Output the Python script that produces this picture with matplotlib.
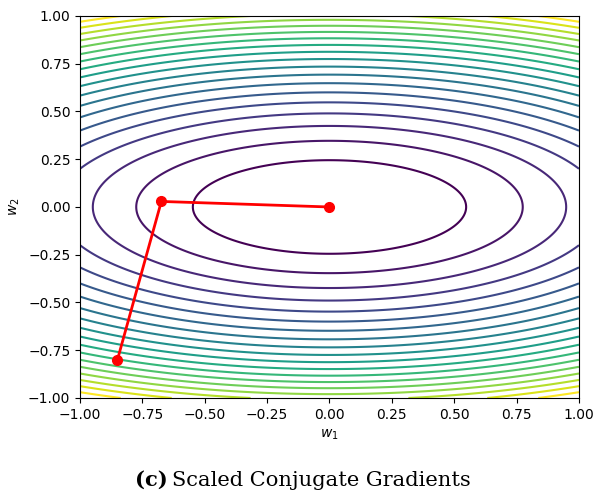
import numpy as np
import matplotlib
matplotlib.use('Agg')
import matplotlib.pyplot as plt

# quadratic bowl f(w) = a*w1^2 + b*w2^2
coef_w1 = 1.0
coef_w2 = 5.0
levels = np.arange(0.3, 5.75, 0.3)

# iterates
path_w1 = [-0.85, -0.674, 0.0]
path_w2 = [-0.80, 0.029, 0.0]

ticks = [-1.00, -0.75, -0.50, -0.25, 0.00, 0.25, 0.50, 0.75, 1.00]
caption_tag = '(c)'
caption_text = 'Scaled Conjugate Gradients'

fig = plt.figure(figsize=(5.94, 4.96), dpi=100)
ax = fig.add_axes([0.1347, 0.1976, 0.8400, 0.7702])

w1 = np.linspace(-1, 1, 500)
w2 = np.linspace(-1, 1, 500)
W1, W2 = np.meshgrid(w1, w2)
Z = coef_w1 * W1 ** 2 + coef_w2 * W2 ** 2
ax.contour(W1, W2, Z, levels=levels, cmap='viridis', linewidths=1.5)

ax.plot(path_w1, path_w2, color='red', lw=2, marker='o', ms=7)

ax.set_xlim(-1, 1)
ax.set_ylim(-1, 1)
ax.set_xticks(ticks)
ax.set_yticks(ticks)
ax.set_xlabel('$w_1$')
ax.set_ylabel('$w_2$')

# caption under the plot, fitted to the width seen in the reference
cap_left, cap_right, cap_base = 135, 471, 0.02
size = 15
font = 'DejaVu Serif'
for _ in range(3):
    t1 = fig.text(cap_left / 594, cap_base, caption_tag, ha='left', va='baseline',
                  family=font, fontweight='bold', fontsize=size)
    fig.canvas.draw()
    bb = t1.get_window_extent()
    t2 = fig.text((bb.x1 + 0.25 * size) / 594, cap_base, caption_text, ha='left',
                  va='baseline', family=font, fontsize=size)
    fig.canvas.draw()
    right = t2.get_window_extent().x1
    t1.remove()
    t2.remove()
    size *= (cap_right - cap_left) / (right - cap_left)

t1 = fig.text(cap_left / 594, cap_base, caption_tag, ha='left', va='baseline',
              family=font, fontweight='bold', fontsize=size)
fig.canvas.draw()
bb = t1.get_window_extent()
fig.text((bb.x1 + 0.25 * size) / 594, cap_base, caption_text, ha='left',
         va='baseline', family=font, fontsize=size)

fig.savefig('out.png', dpi=100)
